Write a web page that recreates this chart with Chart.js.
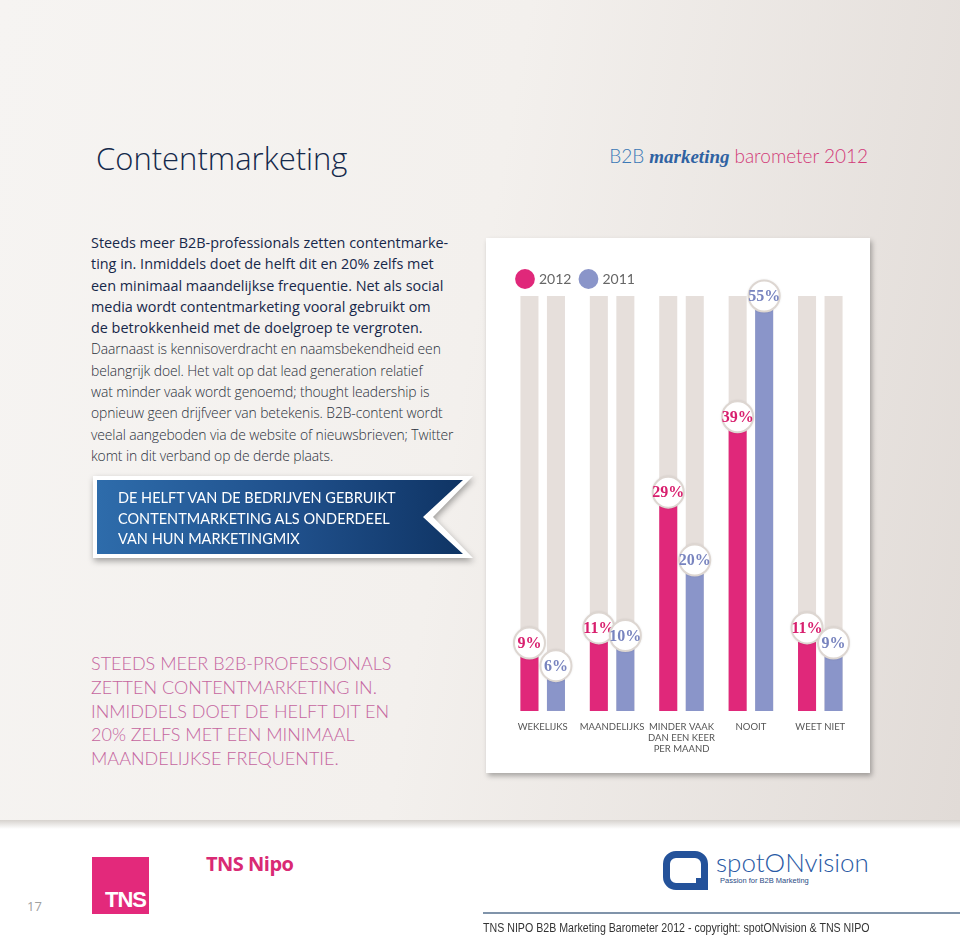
<!DOCTYPE html>
<html lang="nl">
<head>
<meta charset="utf-8">
<title>Contentmarketing</title>
<script src="https://cdn.jsdelivr.net/npm/chart.js@4.4.1/dist/chart.umd.min.js"></script>
<style>
  body { margin: 0; width: 960px; height: 942px; overflow: hidden; position: relative; background: #fff; font-family: 'Open Sans', sans-serif; }
  .top-bg { position: absolute; left: 0; top: 0; width: 960px; height: 820px;
    background: linear-gradient(100deg, #f6f4f2 0%, #f3f0ed 48%, #e1dbd7 100%); }
  .foot-bg { position: absolute; left: 0; top: 820px; width: 960px; height: 122px;
    background: linear-gradient(#d6d2ce 0px, #fff 9px); }
  .title { position: absolute; left: 96px; top: 138px; font-size: 31px; font-weight: 300; color: #14294b; line-height: 40px; white-space: nowrap; }
  .brand { position: absolute; right: 92px; top: 143px; font-size: 19px; line-height: 26px; white-space: nowrap; }
  .brand .b2b { font-family: Lato, sans-serif; color: #3a78b6; font-weight: 300; }
  .brand .mk { font-family: 'Liberation Serif', serif; font-style: italic; font-weight: bold; color: #2f62a2; }
  .brand .bar { font-family: Lato, sans-serif; color: #d23a78; font-weight: 300; }
  .intro { position: absolute; left: 91px; top: 232px; font-size: 14.4px; line-height: 21.3px; white-space: nowrap; }
  .intro .lead { color: #17284a; font-weight: 400; }
  .intro .rest { color: #2a303b; font-weight: 300; font-size: 13.9px; letter-spacing: -0.1px; }
  .banner { position: absolute; left: 93px; top: 476px; filter: drop-shadow(1px 3px 3px rgba(0,0,0,0.35)); }
  .banner .white { width: 380px; height: 82px; background: #fff;
    clip-path: polygon(0 0, 100% 0, calc(100% - 40px) 50%, 100% 100%, 0 100%); }
  .banner .blue { position: absolute; left: 4px; top: 4px; width: 366px; height: 74px;
    background: linear-gradient(90deg, #2e6cab 0%, #1f4f8a 55%, #0f3464 100%);
    clip-path: polygon(0 0, 100% 0, calc(100% - 40px) 50%, 100% 100%, 0 100%); }
  .banner .txt { position: absolute; left: 21px; top: 8px; color: #fff; font-family: Lato, sans-serif; font-size: 14.5px; line-height: 20.5px; white-space: nowrap; }
  .quote { position: absolute; left: 91px; top: 652px; color: #c5659f; font-family: Lato, sans-serif; font-weight: 300; font-size: 18px; line-height: 23.8px; white-space: nowrap; }
  .card { position: absolute; left: 486px; top: 238px; width: 384px; height: 535px; background: #fff;
    box-shadow: 2px 3px 5px rgba(0,0,0,0.3); }
  .pagenr { position: absolute; left: 27px; top: 897px; font-size: 13px; color: #a0a0a0; }
  .tns { position: absolute; left: 92px; top: 857px; width: 57px; height: 57px; background: #e3297b; }
  .tns span { position: absolute; right: 3px; bottom: 1px; color: #fff; font-family: 'Liberation Sans', sans-serif; font-weight: bold; font-size: 22px; letter-spacing: -1px; }
  .nipo { position: absolute; left: 206px; top: 850px; color: #d92a74; font-weight: 700; font-size: 20px; letter-spacing: -0.5px; }
  .logo-q { position: absolute; left: 663px; top: 851px; width: 31px; height: 25px; border: 7px solid #24529a; border-radius: 13px 13px 9px 13px; }
  .logo-q::after { content: ''; position: absolute; right: -7px; bottom: -7px; width: 12px; height: 12px; background: #24529a; }
  .spot { position: absolute; left: 716px; top: 846px; color: #2a5aa5; font-family: Lato, sans-serif; font-weight: 300; font-size: 26px; }
  .passion { position: absolute; left: 720px; top: 876px; color: #2a4b85; font-family: 'Liberation Sans', sans-serif; font-size: 7.5px; }
  .rule { position: absolute; left: 483px; top: 912px; width: 477px; height: 2px; background: #8094aa; }
  .copy { position: absolute; left: 483px; top: 921px; color: #333; font-family: 'Liberation Sans', sans-serif; font-size: 12.5px; white-space: nowrap;
    transform: scaleX(0.85); transform-origin: left top; }
</style>
</head>
<body>
<div class="top-bg"></div>
<div class="foot-bg"></div>

<div class="title">Contentmarketing</div>
<div class="brand"><span class="b2b">B2B</span> <span class="mk">marketing</span> <span class="bar">barometer 2012</span></div>

<div class="intro"><span class="lead">Steeds meer B2B-professionals zetten contentmarke-<br>ting in. Inmiddels doet de helft dit en 20% zelfs met<br>een minimaal maandelijkse frequentie. Net als social<br>media wordt contentmarketing vooral gebruikt om<br>de betrokkenheid met de doelgroep te vergroten.</span><br><span class="rest">Daarnaast is kennisoverdracht en naamsbekendheid een<br>belangrijk doel. Het valt op dat lead generation relatief<br>wat minder vaak wordt genoemd; thought leadership is<br>opnieuw geen drijfveer van betekenis. B2B-content wordt<br>veelal aangeboden via de website of nieuwsbrieven; Twitter<br>komt in dit verband op de derde plaats.</span></div>

<div class="banner">
  <div class="white"></div>
  <div class="blue"><div class="txt">DE HELFT VAN DE BEDRIJVEN GEBRUIKT<br>CONTENTMARKETING ALS ONDERDEEL<br>VAN HUN MARKETINGMIX</div></div>
</div>

<div class="quote">STEEDS MEER B2B-PROFESSIONALS<br>ZETTEN CONTENTMARKETING IN.<br>INMIDDELS DOET DE HELFT DIT EN<br>20% ZELFS MET EEN MINIMAAL<br>MAANDELIJKSE FREQUENTIE.</div>

<div class="card"><canvas id="chart" width="384" height="535"></canvas></div>

<div class="pagenr">17</div>
<div class="tns"><span>TNS</span></div>
<div class="nipo">TNS Nipo</div>
<div class="logo-q"></div>
<div class="spot">spotONvision</div>
<div class="passion">Passion for B2B Marketing</div>
<div class="rule"></div>
<div class="copy">TNS NIPO B2B Marketing Barometer 2012 - copyright: spotONvision &amp; TNS NIPO</div>

<script>
const categories = [['WEKELIJKS'], ['MAANDELIJKS'], ['MINDER VAAK', 'DAN EEN KEER', 'PER MAAND'], ['NOOIT'], ['WEET NIET']];
const years = ['2012', '2011'];
const values2012 = [9, 11, 29, 39, 11];
const values2011 = [6, 10, 20, 55, 9];
const yMax = 55;

const pink = '#e0287a';
const lilac = '#8a95c9';
const trackColor = '#e6dfdb';

// grey "track" behind every bar, full height of the plot
const trackBars = {
    id: 'trackBars',
    beforeDatasetsDraw(chart) {
        const {ctx, chartArea} = chart;
        ctx.save();
        ctx.fillStyle = trackColor;
        chart.data.datasets.forEach((ds, i) => {
            chart.getDatasetMeta(i).data.forEach(bar => {
                ctx.fillRect(bar.x - bar.width / 2, chartArea.top, bar.width, chartArea.bottom - chartArea.top);
            });
        });
        ctx.restore();
    }
};

// round white value badges on top of the bars
const badges = {
    id: 'badges',
    afterDatasetsDraw(chart) {
        const ctx = chart.ctx;
        chart.data.datasets.forEach((ds, i) => {
            chart.getDatasetMeta(i).data.forEach((bar, j) => {
                ctx.save();
                ctx.beginPath();
                ctx.arc(bar.x, bar.y, 15.5, 0, Math.PI * 2);
                ctx.shadowColor = 'rgba(0,0,0,0.2)';
                ctx.shadowBlur = 3;
                ctx.fillStyle = '#fff';
                ctx.fill();
                ctx.shadowColor = 'transparent';
                ctx.lineWidth = 2;
                ctx.strokeStyle = '#ddd6d1';
                ctx.stroke();
                ctx.fillStyle = ds.textColor;
                ctx.font = 'bold 16px "Liberation Serif", serif';
                ctx.textAlign = 'center';
                ctx.textBaseline = 'middle';
                ctx.fillText(ds.data[j] + '%', bar.x, bar.y + 1);
                ctx.restore();
            });
        });
    }
};

new Chart(document.getElementById('chart'), {
    type: 'bar',
    data: {
        labels: categories,
        datasets: [
            { label: years[0], data: values2012, backgroundColor: pink, textColor: '#d81f6e',
              categoryPercentage: 0.764, barPercentage: 0.68 },
            { label: years[1], data: values2011, backgroundColor: lilac, textColor: '#7884bf',
              categoryPercentage: 0.764, barPercentage: 0.68 }
        ]
    },
    options: {
        responsive: false,
        animation: false,
        layout: { padding: { left: 22, right: 15, top: 24, bottom: 8 } },
        scales: {
            x: {
                grid: { display: false, drawTicks: false },
                border: { display: false },
                ticks: {
                    color: '#555',
                    padding: 10.5,
                    maxRotation: 0,
                    autoSkip: false,
                    font: { family: 'Lato', size: 9.5, lineHeight: 1.16 }
                }
            },
            y: { display: false, min: 0, max: yMax }
        },
        plugins: {
            legend: {
                position: 'top',
                align: 'start',
                labels: {
                    usePointStyle: true,
                    pointStyle: 'circle',
                    color: '#666',
                    padding: 10,
                    font: { family: 'Lato', size: 14 }
                }
            },
            tooltip: { enabled: false }
        }
    },
    plugins: [trackBars, badges]
});
</script>
</body>
</html>
